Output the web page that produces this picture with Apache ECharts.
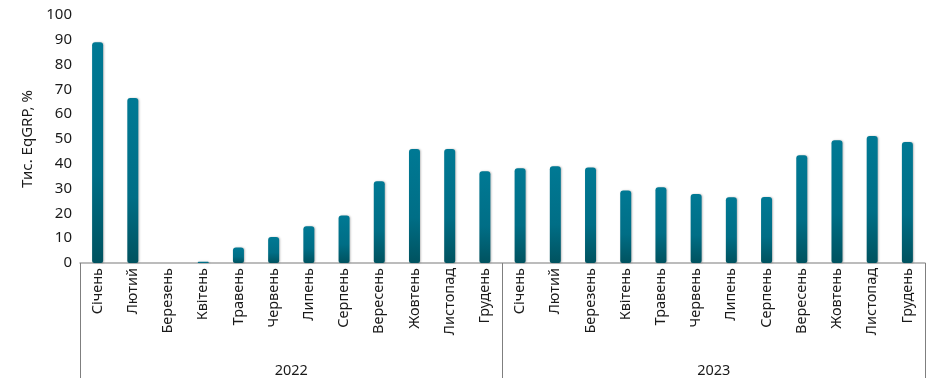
<!DOCTYPE html>
<html>
<head>
<meta charset="utf-8">
<script src="https://cdn.jsdelivr.net/npm/echarts@6/dist/echarts.min.js"></script>
<style>html,body{margin:0;padding:0;background:#fff}#c{width:945px;height:384px}</style>
</head>
<body>
<div id="c"></div>
<script>
const months = ['Січень','Лютий','Березень','Квітень','Травень','Червень','Липень','Серпень','Вересень','Жовтень','Листопад','Грудень'];
const years = ['2022','2023'];
const values2022 = [89, 66.5, 0, 0.5, 6.3, 10.5, 14.8, 19.2, 33, 46, 46, 37];
const values2023 = [38.2, 39, 38.5, 29.2, 30.5, 27.8, 26.5, 26.6, 43.4, 49.5, 51.2, 48.8];
const yTicks = [0, 10, 20, 30, 40, 50, 60, 70, 80, 90, 100];

const categories = months.concat(months);
const values = values2022.concat(values2023);

const chart = echarts.init(document.getElementById('c'));
chart.setOption({
  animation: false,
  textStyle: { fontFamily: 'Noto Sans' },
  grid: { left: 80, right: 20, top: 15, bottom: 121, containLabel: false },
  xAxis: [
    {
      type: 'category',
      data: categories,
      axisLine: { show: true, lineStyle: { color: '#a6a6a6', width: 1.5 } },
      axisTick: { show: false },
      axisLabel: { interval: 0, rotate: 90, margin: 5, fontSize: 14.5, color: '#1a1a1a', fontFamily: 'Noto Sans' }
    },
    {
      type: 'category',
      data: years,
      position: 'bottom',
      axisLine: { show: false },
      axisTick: { show: true, alignWithLabel: false, length: 115, lineStyle: { color: '#7f7f7f', width: 1 } },
      axisLabel: { margin: 100, fontSize: 14.5, color: '#1a1a1a', fontFamily: 'Noto Sans' }
    }
  ],
  yAxis: {
    type: 'value',
    min: yTicks[0],
    max: yTicks[yTicks.length - 1],
    interval: 10,
    name: 'Тис. EqGRP, %',
    nameLocation: 'middle',
    nameGap: 43,
    nameTextStyle: { fontSize: 15, color: '#1a1a1a', fontFamily: 'Noto Sans' },
    axisLine: { show: false },
    axisTick: { show: false },
    splitLine: { show: false },
    axisLabel: { fontSize: 15, color: '#1a1a1a', margin: 8, fontFamily: 'Noto Sans' }
  },
  series: [{
    type: 'bar',
    data: values,
    barWidth: 11,
    xAxisIndex: 0,
    itemStyle: {
      borderRadius: [3, 3, 2, 2],
      color: new echarts.graphic.LinearGradient(0, 0, 0, 1, [
        { offset: 0, color: '#007994' },
        { offset: 0.6, color: '#006e86' },
        { offset: 1, color: '#00525f' }
      ]),
      shadowColor: 'rgba(0,0,0,0.25)',
      shadowBlur: 2,
      shadowOffsetX: 1
    }
  }]
});
</script>
</body>
</html>
